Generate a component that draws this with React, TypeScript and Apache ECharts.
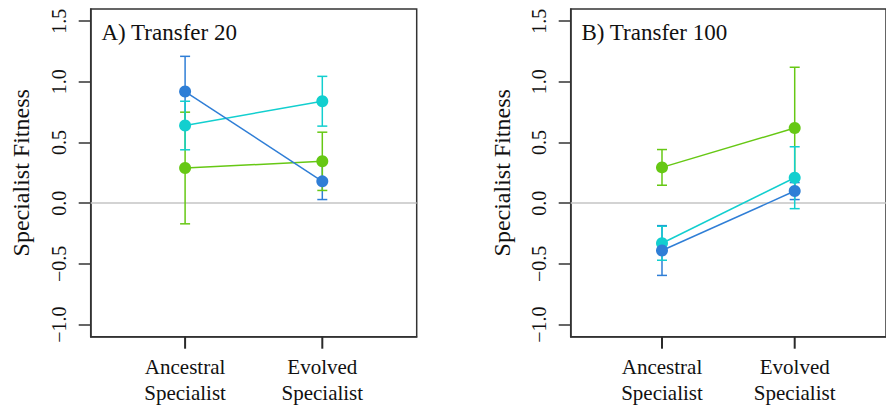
import React, { useEffect, useRef } from "react";
import * as echarts from "echarts";

const categories = ["Ancestral\nSpecialist", "Evolved\nSpecialist"];
const catPositions = [1, 2];
const yTicks = [-1, -0.5, 0, 0.5, 1, 1.5];
const Y_MIN = -1.1;
const Y_MAX = 1.6;

// Panel A: Transfer 20
const blueA = [0.92, 0.18];
const blueAErr = [0.29, 0.15];
const cyanA = [0.64, 0.84];
const cyanAErr = [0.2, 0.205];
const greenA = [0.29, 0.345];
const greenAErr = [0.46, 0.24];

// Panel B: Transfer 100
const blueB = [-0.39, 0.1];
const blueBErr = [0.205, 0.07];
const cyanB = [-0.33, 0.21];
const cyanBErr = [0.14, 0.255];
const greenB = [0.295, 0.62];
const greenBErr = [0.147, 0.5];

const BLUE = "#2f7ed6";
const CYAN = "#12cfcf";
const GREEN = "#66c814";
const FONT = "'Liberation Serif', 'Times New Roman', serif";
const FRAME = "#333333";

function errSeries(grid: number, vals: number[], errs: number[], color: string, z: number) {
  return {
    type: "custom",
    xAxisIndex: grid,
    yAxisIndex: grid,
    z,
    silent: true,
    encode: { x: 0, y: [1, 2] },
    data: vals.map((v, i) => [catPositions[i], v - errs[i], v + errs[i]]),
    renderItem: (params: any, api: any) => {
      const x = api.value(0);
      const lo = api.value(1);
      const hi = api.value(2);
      const top = api.coord([x, hi]);
      const bot = api.coord([x, lo]);
      const hw = 5;
      const style = { stroke: color, lineWidth: 1.5 };
      return {
        type: "group",
        children: [
          { type: "line", shape: { x1: top[0], y1: top[1], x2: bot[0], y2: bot[1] }, style },
          { type: "line", shape: { x1: top[0] - hw, y1: top[1], x2: top[0] + hw, y2: top[1] }, style },
          { type: "line", shape: { x1: bot[0] - hw, y1: bot[1], x2: bot[0] + hw, y2: bot[1] }, style },
        ],
      };
    },
  };
}

function lineSeries(grid: number, vals: number[], color: string, z: number, withZero = false) {
  const s: any = {
    type: "line",
    xAxisIndex: grid,
    yAxisIndex: grid,
    z,
    silent: true,
    data: vals.map((v, i) => [catPositions[i], v]),
    symbol: "circle",
    symbolSize: 12,
    lineStyle: { color, width: 1.5 },
    itemStyle: { color },
  };
  if (withZero) {
    s.markLine = {
      silent: true,
      symbol: "none",
      label: { show: false },
      lineStyle: { color: "#c4c4c4", width: 1.5, type: "solid" },
      data: [{ yAxis: 0 }],
      z: 1,
    };
  }
  return s;
}

function xAxis(grid: number) {
  return {
    type: "value",
    gridIndex: grid,
    position: "bottom",
    min: 0.312,
    max: 2.688,
    splitLine: { show: false },
    axisLine: { show: true, onZero: false, lineStyle: { color: FRAME, width: 1.5 } },
    axisTick: { show: false },
    axisLabel: {
      customValues: catPositions,
      formatter: (v: number) => categories[catPositions.indexOf(v)] ?? "",
      fontFamily: FONT,
      fontSize: 21,
      color: "#111",
      lineHeight: 26,
      margin: 17,
    },
  };
}

function yAxis(grid: number) {
  return {
    type: "value",
    gridIndex: grid,
    position: "left",
    min: Y_MIN,
    max: Y_MAX,
    splitLine: { show: false },
    axisLine: { show: true, onZero: false, lineStyle: { color: FRAME, width: 1.5 } },
    axisTick: { show: true, customValues: yTicks, length: 12, lineStyle: { color: FRAME, width: 1.5 } },
    axisLabel: {
      customValues: yTicks,
      rotate: 90,
      formatter: (v: number) => v.toFixed(1).replace("-", "\u2212"),
      fontFamily: FONT,
      fontSize: 20,
      color: "#111",
      margin: 22,
    },
  };
}

export default function App() {
  const ref = useRef<HTMLDivElement>(null);
  useEffect(() => {
    if (!ref.current) return;
    const chart = echarts.init(ref.current, undefined, { renderer: "svg" });
    const gridCommon = {
      top: 9,
      width: 326,
      height: 327.7,
      show: true,
      borderColor: FRAME,
      borderWidth: 1.5,
      backgroundColor: "transparent",
      containLabel: false,
    };
    const textGraphics: any[] = [
      {
        type: "text",
        x: 101.5,
        y: 32,
        style: { text: "A) Transfer 20", fontFamily: FONT, fontSize: 23, fill: "#111", align: "left", verticalAlign: "middle" },
      },
      {
        type: "text",
        x: 581.5,
        y: 32,
        style: { text: "B) Transfer 100", fontFamily: FONT, fontSize: 23, fill: "#111", align: "left", verticalAlign: "middle" },
      },
      {
        type: "text",
        x: 21,
        y: 172.8,
        rotation: Math.PI / 2,
        style: { text: "Specialist Fitness", fontFamily: FONT, fontSize: 24, fill: "#111", align: "center", verticalAlign: "middle" },
      },
      {
        type: "text",
        x: 502,
        y: 172.8,
        rotation: Math.PI / 2,
        style: { text: "Specialist Fitness", fontFamily: FONT, fontSize: 24, fill: "#111", align: "center", verticalAlign: "middle" },
      },
    ];
    chart.setOption({
      animation: false,
      backgroundColor: "#ffffff",
      grid: [
        { ...gridCommon, left: 90.7 },
        { ...gridCommon, left: 570.7 },
      ],
      xAxis: [xAxis(0), xAxis(1)],
      yAxis: [yAxis(0), yAxis(1)],
      graphic: textGraphics,
      series: [
        errSeries(0, blueA, blueAErr, BLUE, 3),
        errSeries(0, greenA, greenAErr, GREEN, 4),
        errSeries(0, cyanA, cyanAErr, CYAN, 5),
        lineSeries(0, greenA, GREEN, 6, true),
        lineSeries(0, cyanA, CYAN, 7),
        lineSeries(0, blueA, BLUE, 8),
        errSeries(1, blueB, blueBErr, BLUE, 3),
        errSeries(1, greenB, greenBErr, GREEN, 4),
        errSeries(1, cyanB, cyanBErr, CYAN, 5),
        lineSeries(1, greenB, GREEN, 6, true),
        lineSeries(1, cyanB, CYAN, 7),
        lineSeries(1, blueB, BLUE, 8),
      ],
    });
    // x-axis ticks placed with the library's own scales
    const tickGraphics: any[] = [];
    [0, 1].forEach((g) => {
      catPositions.forEach((p) => {
        let pt: any = null;
        try {
          pt = chart.convertToPixel({ gridIndex: g } as any, [p, Y_MIN]);
        } catch (e) {
          pt = null;
        }
        if (pt && isFinite(pt[0]) && isFinite(pt[1])) {
          tickGraphics.push({
            type: "line",
            z: 100,
            shape: { x1: pt[0], y1: pt[1], x2: pt[0], y2: pt[1] + 12 },
            style: { stroke: "#2a2a2a", lineWidth: 2 },
          });
        }
      });
    });
    chart.setOption({ graphic: [...textGraphics, ...tickGraphics] });
    return () => chart.dispose();
  }, []);
  return (
    <div
      ref={ref}
      style={{ position: "absolute", left: 0, top: 0, width: 886, height: 409 }}
    />
  );
}
